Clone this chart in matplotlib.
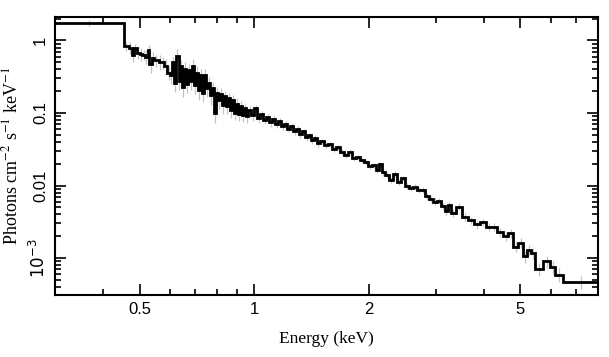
import matplotlib
matplotlib.use('Agg')
import matplotlib.pyplot as plt
from matplotlib.ticker import FixedLocator, NullFormatter, LogLocator
import numpy as np

# bin edges (keV)
edges = [0.30, 0.454, 0.468, 0.4765, 0.4823, 0.4911, 0.500, 0.509, 0.518, 0.525, 0.531,
         0.538, 0.547, 0.561, 0.571, 0.581, 0.592, 0.603, 0.610, 0.617, 0.625, 0.633,
         0.640, 0.648, 0.656, 0.664, 0.672, 0.680, 0.688, 0.697, 0.705, 0.714, 0.722,
         0.731, 0.740, 0.749, 0.758, 0.767, 0.776, 0.786, 0.795, 0.805, 0.815, 0.825,
         0.835, 0.845, 0.855, 0.865, 0.876, 0.887, 0.897, 0.908, 0.919, 0.930, 0.942,
         0.953, 0.965, 0.982, 1.000,
         1.018, 1.037, 1.056, 1.075, 1.095, 1.115, 1.135, 1.156, 1.177, 1.198, 1.220,
         1.242, 1.265, 1.288, 1.311, 1.335, 1.360, 1.385, 1.410, 1.435, 1.462, 1.488,
         1.525, 1.562, 1.600, 1.639, 1.679, 1.720, 1.762, 1.805, 1.849, 1.895, 1.941,
         1.988, 2.037, 2.087, 2.125, 2.163, 2.203,
         2.257, 2.312, 2.368, 2.426, 2.485, 2.546, 2.608, 2.672, 2.737, 2.804, 2.872,
         2.943, 3.014, 3.088, 3.162, 3.220, 3.279,
         3.379, 3.504, 3.633, 3.766, 3.905, 4.048, 4.197, 4.352, 4.512, 4.651, 4.793,
         4.940, 5.091, 5.215, 5.342, 5.473, 5.743, 5.991, 6.174, 6.479, 8.0]

# photons cm^-2 s^-1 keV^-1 in each bin
flux = [1.75, 0.83, 0.80, 0.64, 0.78, 0.68, 0.66, 0.64, 0.60, 0.73, 0.48,
        0.57, 0.53, 0.51, 0.50, 0.45, 0.36, 0.33, 0.50, 0.26, 0.62, 0.28,
        0.44, 0.23, 0.41, 0.25, 0.39, 0.28, 0.45, 0.24, 0.36, 0.205, 0.33,
        0.19, 0.33, 0.22, 0.26, 0.175, 0.22, 0.10, 0.19, 0.15, 0.185, 0.128,
        0.17, 0.125, 0.16, 0.109, 0.15, 0.10, 0.135, 0.098, 0.125, 0.093, 0.116,
        0.090, 0.109, 0.093,
        0.116, 0.085, 0.096, 0.079, 0.087, 0.074, 0.082, 0.070, 0.077, 0.066, 0.070,
        0.060, 0.066, 0.056, 0.060, 0.051, 0.056, 0.046, 0.049, 0.042, 0.045, 0.038,
        0.041, 0.036, 0.037, 0.032, 0.034, 0.029, 0.026, 0.029, 0.024, 0.0245, 0.0224,
        0.021, 0.0186, 0.019, 0.0163, 0.0196, 0.0152,
        0.0139, 0.0119, 0.0146, 0.0112, 0.0125, 0.0098, 0.0093, 0.0095, 0.0087, 0.0088,
        0.0072, 0.0065, 0.0060, 0.0062, 0.0052, 0.0044, 0.0054,
        0.0042, 0.0051, 0.0037, 0.0033, 0.0029, 0.0031, 0.0027, 0.0027, 0.0023, 0.0020,
        0.0022, 0.00142, 0.00162, 0.00105, 0.00131, 0.00116, 0.00070, 0.00090, 0.00075,
        0.00059, 0.00047]

# relative 1-sigma errors (grey bars)
rel_err = [0.10, 0.15, 0.18, 0.20, 0.16, 0.18, 0.20, 0.17, 0.22, 0.18, 0.25,
           0.20, 0.18, 0.22, 0.20, 0.24, 0.22, 0.25, 0.20, 0.26, 0.22, 0.25,
           0.24, 0.27, 0.22, 0.25, 0.23, 0.26, 0.22, 0.25, 0.24, 0.26, 0.22,
           0.26, 0.24, 0.25, 0.22, 0.26, 0.23, 0.28, 0.22, 0.24, 0.21, 0.24,
           0.20, 0.22, 0.19, 0.22, 0.18, 0.21, 0.18, 0.20, 0.17, 0.19, 0.16,
           0.18, 0.15, 0.16,
           0.12, 0.13, 0.11, 0.12, 0.11, 0.12, 0.10, 0.11, 0.10, 0.11, 0.10,
           0.10, 0.09, 0.10, 0.09, 0.10, 0.09, 0.10, 0.09, 0.10, 0.09, 0.10,
           0.08, 0.09, 0.08, 0.09, 0.08, 0.09, 0.08, 0.09, 0.08, 0.09, 0.08,
           0.09, 0.08, 0.09, 0.10, 0.09, 0.10,
           0.09, 0.10, 0.09, 0.10, 0.09, 0.10, 0.10, 0.09, 0.10, 0.10,
           0.11, 0.10, 0.11, 0.10, 0.11, 0.12, 0.11,
           0.12, 0.11, 0.12, 0.12, 0.13, 0.12, 0.13, 0.12, 0.14, 0.13,
           0.14, 0.16, 0.15, 0.18, 0.16, 0.17, 0.20, 0.18, 0.20,
           0.22, 0.20]

xticks = [0.5, 1, 2, 5]
xticklabels = ['0.5', '1', '2', '5']
yticks = [1e-3, 1e-2, 1e-1, 1]
yticklabels = [r'$10^{-3}$', '0.01', '0.1', '1']

edges = np.array(edges)
flux = np.array(flux)
rel_err = np.array(rel_err)
centers = np.sqrt(edges[:-1] * edges[1:])

fig = plt.figure(figsize=(6.09, 3.57), dpi=100)
ax = fig.add_axes([0.0903, 0.174, 0.892, 0.778])

ax.vlines(centers, flux * (1 - rel_err), flux * (1 + rel_err), color='#c4c4c4', lw=0.9, zorder=1)
ax.stairs(flux, edges, baseline=None, color='black', lw=2.0, zorder=2)

ax.set_xscale('log')
ax.set_yscale('log')
ax.set_xlim(0.3, 8.0)
ax.set_ylim(3.1e-4, 2.1)

ax.xaxis.set_major_locator(FixedLocator(xticks))
ax.set_xticklabels(xticklabels, family='Liberation Sans', fontsize=12)
ax.xaxis.set_minor_locator(FixedLocator([0.3, 0.4, 0.6, 0.7, 0.8, 0.9, 3, 4, 6, 7, 8]))
ax.xaxis.set_minor_formatter(NullFormatter())

ax.yaxis.set_major_locator(FixedLocator(yticks))
ax.set_yticklabels(yticklabels, family='Liberation Sans', fontsize=12, rotation=90,
                   va='center', math_fontfamily='dejavusans')
ax.yaxis.set_minor_locator(LogLocator(base=10, subs=np.arange(2, 10)))
ax.yaxis.set_minor_formatter(NullFormatter())

ax.tick_params(which='both', direction='in', top=True, right=True, width=1.2)
ax.tick_params(which='major', length=8, pad=5)
ax.tick_params(which='minor', length=4)
for s in ax.spines.values():
    s.set_linewidth(1.5)

ax.set_xlabel('Energy (keV)', family='Liberation Serif', fontsize=12.5, labelpad=10)
ax.set_ylabel(r'Photons cm$^{-2}$ s$^{-1}$ keV$^{-1}$', family='Liberation Serif', fontsize=13,
              math_fontfamily='stix', labelpad=5)

fig.savefig('out.png', dpi=100)
